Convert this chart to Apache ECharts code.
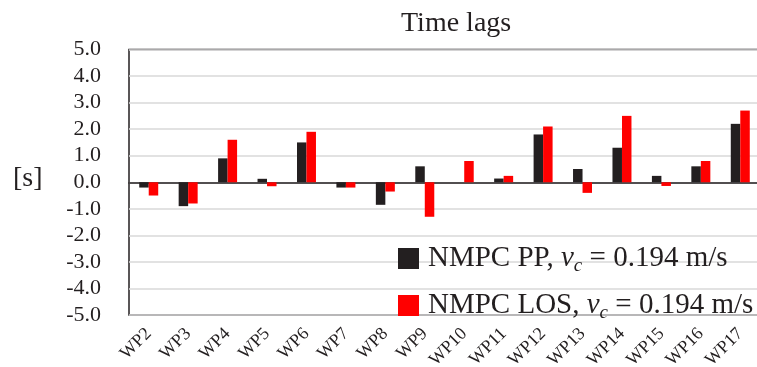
<!DOCTYPE html>
<html><head><meta charset="utf-8">
<script src="https://cdn.jsdelivr.net/npm/echarts@6/dist/echarts.min.js"></script>
<style>html,body{margin:0;padding:0;background:#fff}#c{width:757px;height:367px}</style>
</head><body><div id="c"></div>
<script>
const categories = ['WP2','WP3','WP4','WP5','WP6','WP7','WP8','WP9','WP10','WP11','WP12','WP13','WP14','WP15','WP16','WP17'];
const nmpcPP  = [-0.2,-0.9,0.9,0.13,1.5,-0.2,-0.85,0.6,0,0.14,1.8,0.5,1.3,0.24,0.6,2.2];
const nmpcLOS = [-0.5,-0.8,1.6,-0.15,1.9,-0.2,-0.35,-1.3,0.8,0.24,2.1,-0.4,2.5,-0.14,0.8,2.7];
const yTicks = [-5,-4,-3,-2,-1,0,1,2,3,4,5];
const seriesNames = ['NMPC PP','NMPC LOS'];
const speedLabel = '0.194 m/s';

const serif = 'Liberation Serif';
const dark = '#231f20';
const chart = echarts.init(document.getElementById('c'));
chart.setOption({
  animation:false,
  title:{text:'Time lags', left:396, top:5, textStyle:{fontFamily:serif, fontSize:28, fontWeight:'normal', color:dark}},
  graphic:[{type:'text', left:13, top:165, style:{text:'[s]', font:'28px "Liberation Serif"', fill:dark}}],
  grid:{left:129, top:49.5, width:631, height:265.5, show:true, borderColor:dark, borderWidth:1.5, containLabel:false, outerBoundsMode:'none'},
  legend:{orient:'vertical', left:393, top:239, itemWidth:21, itemHeight:21, itemGap:16,
    icon:'rect',
    formatter: function(name){ return name + ', {i|v}{s|c} = ' + speedLabel; },
    textStyle:{fontFamily:serif, fontSize:29, color:dark, padding:[0,0,0,4],
      rich:{i:{fontFamily:serif, fontStyle:'italic', fontSize:29, color:dark},
            s:{fontFamily:serif, fontStyle:'italic', fontSize:19, color:dark, verticalAlign:'bottom', padding:[14,0,0,0]}}}},
  xAxis:{type:'category', data:categories,
    axisLine:{onZero:true, lineStyle:{color:dark, width:1.5}},
    axisTick:{show:false},
    axisLabel:{rotate:45, interval:0, margin:16, fontFamily:serif, fontSize:18, color:dark}},
  yAxis:{type:'value', min:-5, max:5, interval:1,
    axisLine:{show:false}, axisTick:{show:false},
    splitLine:{lineStyle:{color:'#d9d9d9', width:1.5}},
    axisLabel:{formatter:v=>v.toFixed(1), fontFamily:serif, fontSize:22, color:dark, margin:28}},
  series:[
    {name:seriesNames[0], type:'bar', data:nmpcPP, barWidth:9.5, barGap:'0%', itemStyle:{color:dark}},
    {name:seriesNames[1], type:'bar', data:nmpcLOS, barWidth:9.5, barGap:'0%', itemStyle:{color:'#ff0000'}}
  ]
});
</script></body></html>
